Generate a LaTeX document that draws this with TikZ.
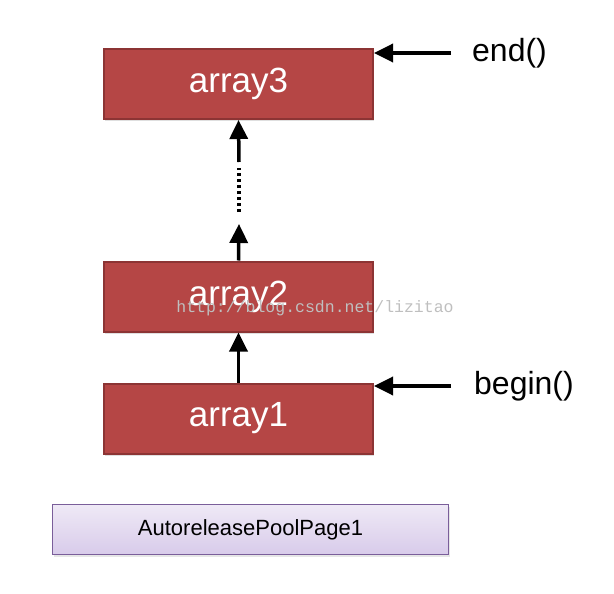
\documentclass[tikz,border=0pt]{standalone}
\usepackage{fontspec}
\setmainfont{Liberation Sans}
\setmonofont{Liberation Mono}
\usepackage{tikz}
\usetikzlibrary{arrows.meta,shadows}
\usepackage{xcolor}
\definecolor{arrred}{HTML}{B54645}
\definecolor{arrrim}{HTML}{8C3434}
\definecolor{pagetop}{HTML}{EFE9F6}
\definecolor{pagebot}{HTML}{D8CBEA}
\definecolor{pagerim}{HTML}{7A5E9A}
\newcommand{\arraybox}[4] {
    \node[arr] (#1) at (#2, #3) {#4};
}
\newcommand{\ptrlabel}[4] {
    \node[anchor=west,inner sep=0pt,font=\fontsize{32}{32}\selectfont] (#1) at (#2, #3) {#4};
}

\begin{document}
\begin{tikzpicture}[x=1pt,y=-1pt]
        \tikzset{
            arr/.style={
                draw=arrrim,
                line width=2pt,
                fill=arrred,
                minimum width=269pt,
                minimum height=70pt,
                text=white,
                font=\fontsize{35}{35}\selectfont,
                drop shadow={opacity=0.25,shadow xshift=1pt,shadow yshift=-2pt}
            },
            ptr/.style={
                line width=3.5pt,
                -{Triangle[width=18pt,length=19pt]}
            }
        }
        \useasboundingbox (0,0) rectangle (614,594);
        % arrays
        \arraybox{a3}{238.5}{84}{array3}
        \arraybox{a2}{238.5}{296.5}{array2}
        \arraybox{a1}{238.5}{418.5}{array1}
        % page
        \node[draw=pagerim,line width=1.5pt,top color=pagetop,bottom color=pagebot,
              minimum width=396pt,minimum height=50pt,font=\fontsize{22}{22}\selectfont,
              drop shadow={opacity=0.2,shadow xshift=1pt,shadow yshift=-2pt}]
              (page) at (250.5, 529.5) {AutoreleasePoolPage1};
        % chain
        \coordinate (up1) at (239, 224);
        \coordinate (dotlo) at (239, 212);
        \coordinate (dothi) at (239, 168);
        \coordinate (up2) at (239, 162);
        \draw[ptr] (a1.north) -- (a2.south);
        \draw[ptr] (a2.north) -- (up1);
        \draw[line width=3.5pt,dash pattern=on 3pt off 3pt] (dotlo) -- (dothi);
        \draw[ptr] (up2) -- (a3.south);
        % pointers
        \ptrlabel{endlbl}{472}{53}{end()}
        \ptrlabel{beginlbl}{474}{386}{begin()}
        \draw[ptr] ([xshift=-21pt]endlbl.west) -- (a3.east |- endlbl.west);
        \draw[ptr] ([xshift=-23pt]beginlbl.west) -- (a1.east |- beginlbl.west);
        % watermark
        \node[text=black!25,font=\ttfamily\fontsize{16.5}{16.5}\selectfont] (mark) at (315, 308) {http://blog.csdn.net/lizitao};
    \end{tikzpicture}
\end{document}
